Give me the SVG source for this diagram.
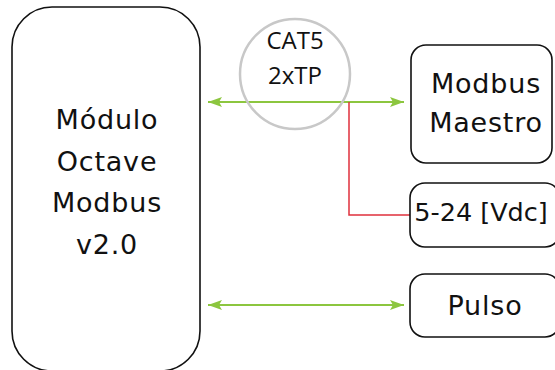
<svg xmlns="http://www.w3.org/2000/svg" width="555" height="370" viewBox="0 0 555 370">
  <defs>
    <style>
      .box { fill: #ffffff; stroke: #111111; stroke-width: 1.6; }
      .lbl { font-family: "DejaVu Sans", "Liberation Sans", sans-serif; font-size: 27px; fill: #111111; text-anchor: middle; letter-spacing: 0.8px; }
      .cat { font-family: "Open Sans", "Liberation Sans", sans-serif; font-size: 24px; fill: #111111; text-anchor: middle; }
      .green { stroke: #8cc63f; stroke-width: 2; fill: none; }
      .red { stroke: #e0303c; stroke-width: 1.5; fill: none; }
    </style>
    <marker id="ah" viewBox="0 0 14 10" refX="14" refY="5" markerWidth="14" markerHeight="10" markerUnits="userSpaceOnUse" orient="auto-start-reverse">
      <path d="M0,0 L14,5 L0,10 L3,5 Z" fill="#8cc63f"/>
    </marker>
  </defs>

  <g id="connectors">
    <line class="green" x1="208" y1="102" x2="404" y2="102" marker-start="url(#ah)" marker-end="url(#ah)"/>
    <polyline class="red" points="349,102 349,215 410,215"/>
    <line class="green" x1="208" y1="305" x2="404" y2="305" marker-start="url(#ah)" marker-end="url(#ah)"/>
  </g>

  <g id="cat5">
    <circle cx="295" cy="74" r="55" fill="none" stroke="#c8c8c8" stroke-width="2.5"/>
    <text class="cat" x="295" y="49">CAT5</text>
    <text class="cat" x="295" y="84">2xTP</text>
  </g>

  <g id="modulo">
    <rect class="box" x="12" y="7" width="188" height="364" rx="40" ry="40"/>
    <text class="lbl" x="107" y="129">Módulo</text>
    <text class="lbl" x="107" y="171">Octave</text>
    <text class="lbl" x="107" y="212">Modbus</text>
    <text class="lbl" x="107" y="254">v2.0</text>
  </g>

  <g id="maestro">
    <rect class="box" x="411" y="45" width="141" height="118" rx="15" ry="15"/>
    <text class="lbl" x="486" y="93">Modbus</text>
    <text class="lbl" x="486" y="132">Maestro</text>
  </g>

  <g id="vdc">
    <rect class="box" x="410" y="183" width="150" height="64" rx="15" ry="15"/>
    <text class="lbl" x="481" y="221" style="font-size:25.5px;letter-spacing:0">5-24 [Vdc]</text>
  </g>

  <g id="pulso">
    <rect class="box" x="410" y="274" width="150" height="63" rx="15" ry="15"/>
    <text class="lbl" x="485" y="315">Pulso</text>
  </g>
</svg>
